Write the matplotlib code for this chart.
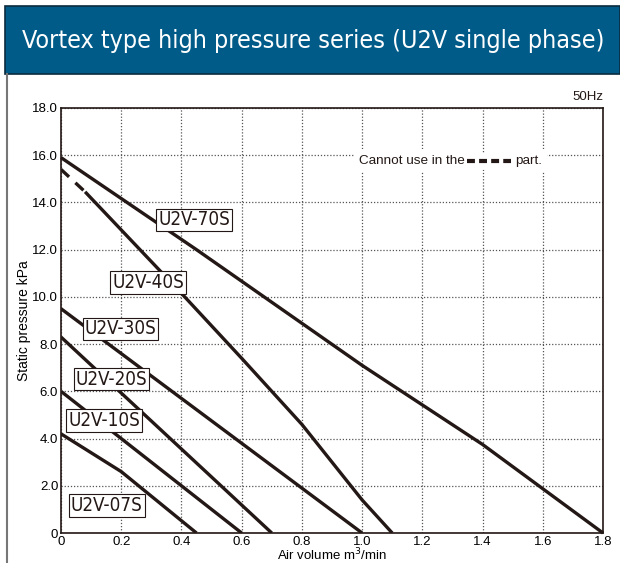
import matplotlib
matplotlib.use("Agg")
import matplotlib.pyplot as plt
from matplotlib.patches import Rectangle
from matplotlib.lines import Line2D

# air volume (m3/min) vs static pressure (kPa)
u07_x = [0.0, 0.2, 0.45]
u07_y = [4.2, 2.6, 0.0]
u10_x = [0.0, 0.6]
u10_y = [6.0, 0.0]
u20_x = [0.0, 0.7]
u20_y = [8.3, 0.0]
u30_x = [0.0, 1.0]
u30_y = [9.5, 0.0]
u40_dash_x = [0.0, 0.08]
u40_dash_y = [15.4, 14.45]
u40_x = [0.08, 0.4, 0.6, 0.8, 1.0, 1.1]
u40_y = [14.45, 10.15, 7.4, 4.6, 1.4, 0.0]
u70_x = [0.0, 0.45, 1.0, 1.4, 1.8]
u70_y = [15.9, 12.0, 7.1, 3.75, 0.0]

models = ["U2V-70S", "U2V-40S", "U2V-30S", "U2V-20S", "U2V-10S", "U2V-07S"]
label_x = [0.442, 0.289, 0.198, 0.168, 0.143, 0.152]
label_y = [13.26, 10.61, 8.64, 6.52, 4.75, 1.15]

x_ticks = [0, 0.2, 0.4, 0.6, 0.8, 1.0, 1.2, 1.4, 1.6, 1.8]
x_tick_labels = ["0", "0.2", "0.4", "0.6", "0.8", "1.0", "1.2", "1.4", "1.6", "1.8"]
y_ticks = [0, 2, 4, 6, 8, 10, 12, 14, 16, 18]
y_tick_labels = ["0", "2.0", "4.0", "6.0", "8.0", "10.0", "12.0", "14.0", "16.0", "18.0"]

ink = "#231815"
cond = dict(family="DejaVu Sans", fontstretch="condensed")
plain = ["Liberation Sans", "DejaVu Sans"]

fig = plt.figure(figsize=(6.2, 5.63), dpi=100)

# title banner and page border
fig.patches.append(Rectangle((5 / 620, 1 - 74 / 563), 615 / 620, 68 / 563,
                             transform=fig.transFigure, facecolor="#015b88",
                             edgecolor="#0b2a3f", linewidth=1.2))
fig.lines.append(Line2D([7 / 620, 7 / 620], [0, 1 - 74 / 563],
                        transform=fig.transFigure, color="#777777", linewidth=1.5))
fig.text(0.506, 1 - 41 / 563, "Vortex type high pressure series (U2V single phase)",
         color="white", fontsize=18, ha="center", va="center", **cond)

ax = fig.add_axes([61 / 620, 1 - 533 / 563, 542 / 620, 425 / 563])
ax.set_xlim(0, 1.8)
ax.set_ylim(0, 18)
ax.set_xticks(x_ticks)
ax.set_xticklabels(x_tick_labels, family=plain, fontsize=9.5)
ax.set_yticks(y_ticks)
ax.set_yticklabels(y_tick_labels, family=plain, fontsize=9.5)
ax.tick_params(length=0, pad=2)
ax.grid(True, linestyle=(0, (1, 1.5)), color="#555555", linewidth=0.9)
for s in ax.spines.values():
    s.set_linewidth(1.2)
    s.set_color(ink)

lw = 2.4
ax.plot(u07_x, u07_y, color=ink, lw=lw, solid_capstyle="butt")
ax.plot(u10_x, u10_y, color=ink, lw=lw, solid_capstyle="butt")
ax.plot(u20_x, u20_y, color=ink, lw=lw, solid_capstyle="butt")
ax.plot(u30_x, u30_y, color=ink, lw=lw, solid_capstyle="butt")
ax.plot(u40_dash_x, u40_dash_y, color=ink, lw=lw, linestyle=(0, (3.3, 2.6)))
ax.plot(u40_x, u40_y, color=ink, lw=lw, solid_capstyle="butt")
ax.plot(u70_x, u70_y, color=ink, lw=lw, solid_capstyle="butt", clip_on=False)

for name, lx, ly in zip(models, label_x, label_y):
    ax.text(lx, ly, name, fontsize=13.5, ha="center", va="center",
            color=ink, zorder=5,
            bbox=dict(boxstyle="square,pad=0.1", facecolor="white",
                      edgecolor=ink, linewidth=0.8), **cond)

# note about the dashed part
ax.plot([1.342, 1.508], [15.76, 15.76], color="white", lw=12, zorder=4)
ax.text(1.342, 15.76, "Cannot use in the", family=plain, fontsize=9.7,
        ha="right", va="center", color=ink, zorder=5,
        bbox=dict(boxstyle="square,pad=0.4", facecolor="white", edgecolor="none"))
ax.text(1.508, 15.76, "part.", family=plain, fontsize=9.7,
        ha="left", va="center", color=ink, zorder=5,
        bbox=dict(boxstyle="square,pad=0.4", facecolor="white", edgecolor="none"))
ax.plot([1.349, 1.495], [15.76, 15.76], color=ink, lw=3, linestyle=(0, (1.9, 1.0)),
        zorder=6, solid_capstyle="butt")

ax.text(1.0, 1.012, "50Hz", transform=ax.transAxes, ha="right", va="bottom",
        family=plain, fontsize=9.5, color=ink)
ax.set_xlabel("Air volume m$^3$/min", family=plain, fontsize=9.5, labelpad=-1)
ax.set_ylabel("Static pressure kPa", family=plain, fontsize=10, labelpad=1)

fig.savefig("out.png", dpi=100)
